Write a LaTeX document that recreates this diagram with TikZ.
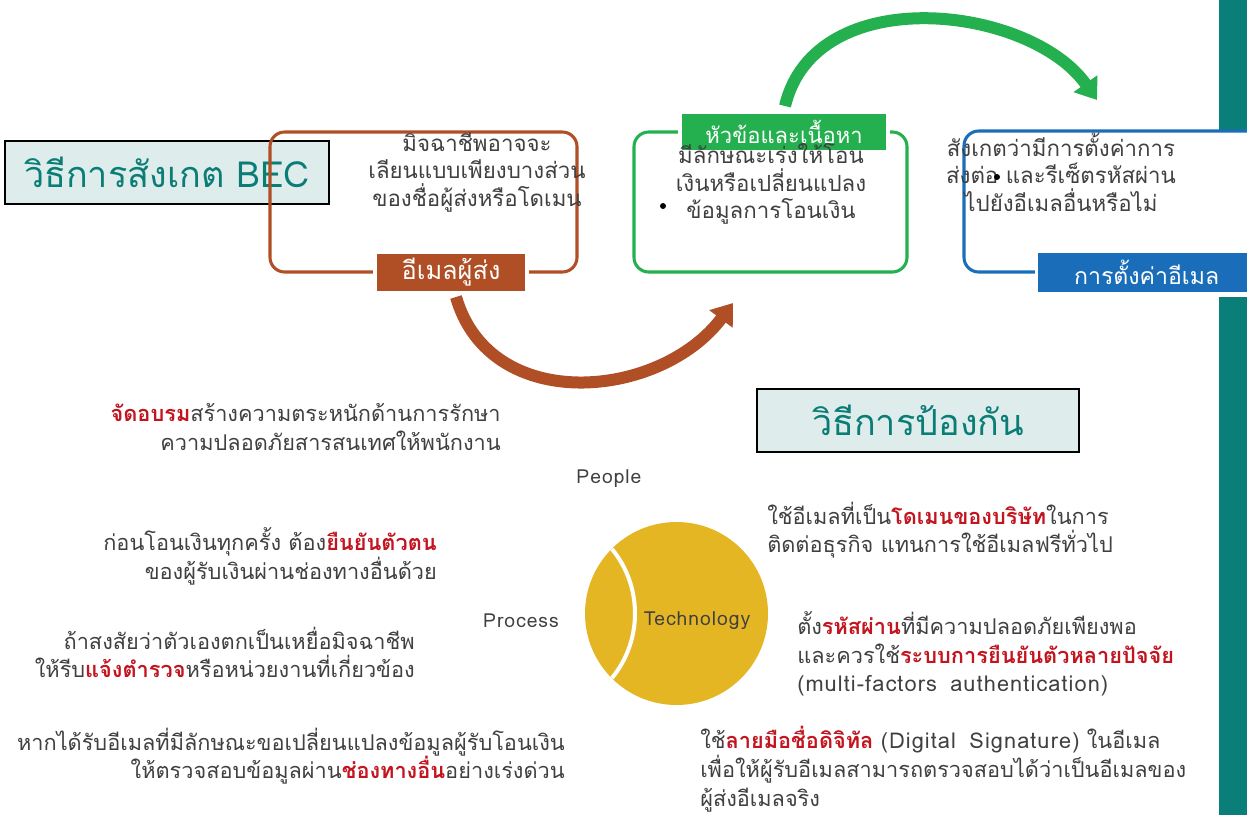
\documentclass[tikz,border=0pt]{standalone}
\usepackage{fontspec}
\setmainfont[Script=Thai]{Loma}
\newfontfamily\latn[LetterSpace=5,WordSpace=1.6]{Loma}
\usetikzlibrary{arrows.meta}
\definecolor{orangeC}{HTML}{B04E25}
\definecolor{greenC}{HTML}{24B04F}
\definecolor{blueC}{HTML}{1A6EB9}
\definecolor{tealT}{HTML}{0A7D76}
\definecolor{boxfill}{HTML}{DEECEC}
\definecolor{barC}{HTML}{0A7F79}
\definecolor{yellowC}{HTML}{E5B624}
\definecolor{redT}{HTML}{C2151F}
\definecolor{textC}{HTML}{404040}
\newcommand\hlr[1]{{\bfseries\color{redT}#1}}
\begin{document}
\begin{tikzpicture}[x=0.75pt,y=-0.75pt,
  txt/.style={text=textC, font=\fontsize{16.3}{21.5}\selectfont, inner sep=0pt},
  rt/.style={txt, align=right},
  lt/.style={txt, align=left},
  ct/.style={txt, align=center, font=\fontsize{16.7}{20.6}\selectfont},
  frame/.style={rounded corners=11pt, line width=2.3pt},
  tag/.style={draw=white, line width=2.5pt, text=white, inner sep=0pt,
              font=\fontsize{16.5}{20}\selectfont},
  titlebox/.style={draw=black, line width=1.3pt, fill=boxfill, text=tealT,
              inner sep=0pt, font=\fontsize{27}{30}\selectfont},
  bigarrow/.style={line width=9pt, -{Triangle[length=15pt,width=21pt]}},
  lbl/.style={text=textC, font=\fontsize{14.5}{16}\latn, inner sep=0pt}
]
\useasboundingbox (0,0) rectangle (1247,815);
\begin{scope}
\clip (0,0) rectangle (1247,815);

% teal side bar
\fill[barC] (1219,0) rectangle (1247,130);
\fill[barC] (1219,297) rectangle (1247,815);

% title
\node[titlebox, minimum width=243pt, minimum height=47.25pt] (t1) at (167,172.5) {วิธีการสังเกต BEC};

% frames
\draw[frame, draw=orangeC] (270,132) rectangle (577,272);
\draw[frame, draw=greenC] (634,132) rectangle (907,272);
\draw[frame, draw=blueC] (964,131) rectangle (1290,272);

% tags
\node[tag, fill=orangeC, minimum width=114pt, minimum height=30.75pt, font=\fontsize{19}{22}\selectfont] (otag) at (451,272.5) {อีเมลผู้ส่ง};
\node[tag, fill=greenC, minimum width=156pt, minimum height=30pt] (gtag) at (784,132) {หัวข้อและเนื้อหา};
\node[tag, fill=blueC, minimum width=171pt, minimum height=32.25pt, anchor=west, font=\fontsize{17.3}{20}\selectfont] (btag) at (1035,272.5) {\hspace*{-6pt}การตั้งค่าอีเมล};

% box texts
\node[ct] (otext) at (477,172) {มิจฉาชีพอาจจะ\\เลียนแบบเพียงบางส่วน\\ของชื่อผู้ส่งหรือโดเมน};
\node[ct] (gtext) at (771,184) {มีลักษณะเร่งให้โอน\\เงินหรือเปลี่ยนแปลง\\ข้อมูลการโอนเงิน};
\fill[black] (663,206) circle[radius=3];
\node[ct] (btext) at (1061,172) {สังเกตว่ามีการตั้งค่าการ\\ส่งต่อ และรีเซ็ตรหัสผ่าน\\ไปยังอีเมลอื่นหรือไม่};
\fill[black] (997,177) circle[radius=3];

% arrows
\coordinate (oa1) at (456,297);
\coordinate (oa2) at (733,303);
\draw[bigarrow, draw=orangeC] (oa1) .. controls (490,415) and (660,400) .. (oa2);
\coordinate (ga1) at (785,106);
\coordinate (ga2) at (1097,100);
\draw[bigarrow, draw=greenC] (ga1) .. controls (815,-20) and (1030,5) .. (ga2);

% prevention title
\node[titlebox, minimum width=241.5pt, minimum height=47.25pt] (t2) at (918,420.5) {วิธีการป้องกัน};

% left texts
\node[rt, anchor=east] (l1) at (501,427) {\hlr{จัดอบรม}สร้างความตระหนักด้านการรักษา\\ความปลอดภัยสารสนเทศให้พนักงาน};
\node[rt, anchor=east] (l2) at (437,556.5) {ก่อนโอนเงินทุกครั้ง ต้อง\hlr{ยืนยันตัวตน}\\ของผู้รับเงินผ่านช่องทางอื่นด้วย};
\node[rt, anchor=east] (l3) at (415,652.5) {ถ้าสงสัยว่าตัวเองตกเป็นเหยื่อมิจฉาชีพ\\ให้รีบ\hlr{แจ้งตำรวจ}หรือหน่วยงานที่เกี่ยวข้อง};
\node[rt, anchor=east] (l4) at (565,756) {หากได้รับอีเมลที่มีลักษณะขอเปลี่ยนแปลงข้อมูลผู้รับโอนเงิน\\ให้ตรวจสอบข้อมูลผ่าน\hlr{ช่องทางอื่น}อย่างเร่งด่วน};

% right texts
\node[lt, anchor=west] (r1) at (767,530) {ใช้อีเมลที่เป็น\hlr{โดเมนของบริษัท}ในการ\\ติดต่อธุรกิจ แทนการใช้อีเมลฟรีทั่วไป};
\node[lt, anchor=west] (r2) at (797,654) {ตั้ง\hlr{รหัสผ่าน}ที่มีความปลอดภัยเพียงพอ\\และควรใช้\hlr{ระบบการยืนยันตัวหลายปัจจัย}\\{\latn(multi-factors authentication)}};
\node[lt, anchor=west] (r3) at (700,769) {ใช้\hlr{ลายมือชื่อดิจิทัล} {\latn(Digital Signature)} ในอีเมล\\เพื่อให้ผู้รับอีเมลสามารถตรวจสอบได้ว่าเป็นอีเมลของ\\ผู้ส่งอีเมลจริง};

% circle
\fill[yellowC] (676.5,613.5) circle[radius=91.5];
\draw[white, line width=3pt] (533.1,613.5) ++(-39.3:101.9) arc[start angle=-39.3, end angle=39.3, radius=101.9];
\node[lbl] (people) at (609,479) {People};
\node[lbl] (process) at (521,621) {Process};
\node[lbl] (tech) at (697,621) {Technology};
\end{scope}
\end{tikzpicture}
\end{document}
